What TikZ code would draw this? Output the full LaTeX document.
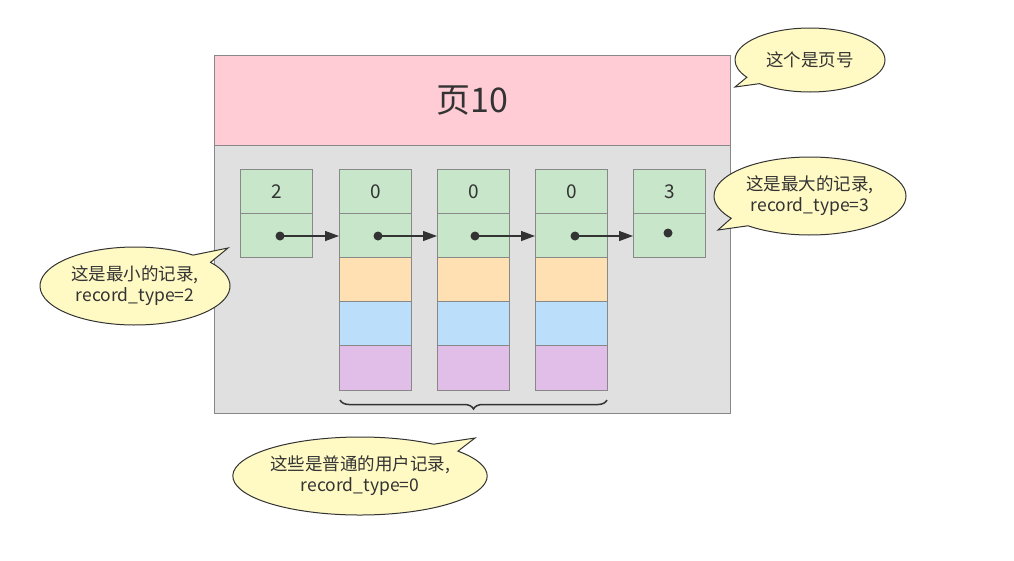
\documentclass[tikz,border=0pt]{standalone}
\usepackage{fontspec}
\setmainfont{Noto Sans CJK SC}
\usetikzlibrary{shapes.callouts,decorations.pathreplacing,arrows.meta}
\definecolor{pinkh}{HTML}{FFCCD5}
\definecolor{grayb}{HTML}{E0E0E0}
\definecolor{gr}{HTML}{C8E6C9}
\definecolor{or}{HTML}{FFE0B2}
\definecolor{bl}{HTML}{BBDEFB}
\definecolor{pu}{HTML}{E1BEE7}
\definecolor{yel}{HTML}{FFF9C4}
\definecolor{edge}{HTML}{888888}
\definecolor{txt}{HTML}{333333}
\begin{document}
\begin{tikzpicture}[x=1pt,y=-1pt,
  cell/.style={draw=edge,line width=1pt,minimum width=72pt,minimum height=44pt,inner sep=0pt,text=txt,font=\fontsize{19}{19}\selectfont},
  dot/.style={circle,fill=txt,inner sep=0pt,minimum size=9pt},
  arr/.style={-{Triangle[length=14pt,width=10pt]},line width=1.3pt,draw=txt},
  call/.style={ellipse callout,draw=black!80,line width=1pt,fill=yel,align=center,text=txt,font=\fontsize{17.5}{21}\selectfont,inner sep=0pt}]
\useasboundingbox (0,0) rectangle (1014,560);
\node[draw=edge,fill=pinkh,line width=1pt,minimum width=516pt,minimum height=90pt,anchor=north west,inner sep=0pt,font=\fontsize{34}{34}\selectfont,text=txt] (hdr) at (214,55) {页10};
\node[draw=edge,fill=grayb,line width=1pt,minimum width=516pt,minimum height=268pt,anchor=north west,inner sep=0pt] (body) at (214,145) {};
\node[cell,fill=gr,anchor=north west] (a1) at (240,169) {2};
\node[cell,fill=gr,anchor=north west] (a2) at (240,213) {};
\node[dot] (da) at (280,236) {};
\foreach \n/\x/\dx in {b/339/378,c/437/475,d/535/575}{
  \node[cell,fill=gr,anchor=north west] (\n1) at (\x,169) {0};
  \node[cell,fill=gr,anchor=north west] (\n2) at (\x,213) {};
  \node[cell,fill=or,anchor=north west] (\n3) at (\x,257) {};
  \node[cell,fill=bl,anchor=north west] (\n4) at (\x,301) {};
  \node[cell,fill=pu,anchor=north west,minimum height=45pt] (\n5) at (\x,345) {};
  \node[dot] (d\n) at (\dx,236) {};
}
\node[cell,fill=gr,anchor=north west] (e1) at (633,169) {3};
\node[cell,fill=gr,anchor=north west] (e2) at (633,213) {};
\node[dot] (de) at (668,233) {};
\draw[arr] (da.center) -- (da.center -| b2.west);
\draw[arr] (db.center) -- (db.center -| c2.west);
\draw[arr] (dc.center) -- (dc.center -| d2.west);
\draw[arr] (dd.center) -- (dd.center -| e2.west);
\coordinate (bl) at (340,400); \coordinate (br) at (607,400);
\draw[decorate,decoration={brace,mirror,amplitude=9pt},line width=1.5pt,draw=txt] (bl) -- (br);
\node[call,minimum width=150pt,minimum height=64pt,callout absolute pointer={(735,87)}] (c1) at (810,60) {这个是页号};
\node[call,minimum width=192pt,minimum height=78pt,callout absolute pointer={(718,230)}] (c2) at (810,196) {这是最大的记录,\\ record\_type=3};
\node[call,minimum width=190pt,minimum height=78pt,callout absolute pointer={(228,248)}] (c3) at (135,286) {这是最小的记录,\\ record\_type=2};
\node[call,minimum width=236pt,minimum height=78pt,callout absolute pointer={(475,438)}] (c4) at (360,476) {这些是普通的用户记录,\\ record\_type=0};
\end{tikzpicture}
\end{document}
